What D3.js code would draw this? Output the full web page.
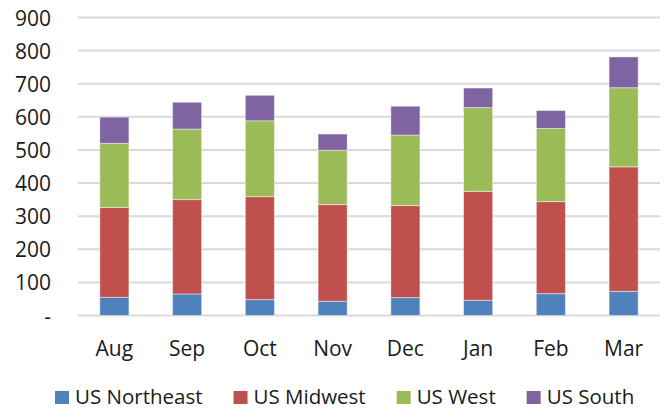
<!DOCTYPE html>
<html>
<head>
<meta charset="utf-8">
<script src="https://cdn.jsdelivr.net/npm/d3@7"></script>
<style>
  html, body { margin: 0; padding: 0; background: #fff; }
  svg { display: block; font-family: "Open Sans", sans-serif; }
</style>
</head>
<body>
<svg id="chart" width="668" height="410"></svg>
<script>
const months = ["Aug", "Sep", "Oct", "Nov", "Dec", "Jan", "Feb", "Mar"];
const seriesNames = ["US Northeast", "US Midwest", "US West", "US South"];
const northeast = [55, 65, 48, 43, 54, 46, 66, 73];
const midwest   = [271, 285, 311, 292, 278, 329, 278, 376];
const west      = [194, 213, 229, 164, 213, 253, 221, 239];
const south     = [79, 81, 77, 49, 87, 59, 54, 93];
const yTicks = [0, 100, 200, 300, 400, 500, 600, 700, 800, 900];
const colors = ["#4F81BD", "#C0504D", "#9BBB59", "#8064A2"];

const svg = d3.select("#chart");
const plotLeft = 78, plotRight = 660, plotTop = 17.5, plotBottom = 315.5;

const rows = months.map((m, i) => ({
  month: m,
  "US Northeast": northeast[i],
  "US Midwest": midwest[i],
  "US West": west[i],
  "US South": south[i]
}));
const stacked = d3.stack().keys(seriesNames)(rows);

const x = d3.scaleBand().domain(months).range([plotLeft, plotRight]).paddingInner(0.6).paddingOuter(0.3);
const y = d3.scaleLinear().domain([0, 900]).range([plotBottom, plotTop]);
const color = d3.scaleOrdinal().domain(seriesNames).range(colors);

// gridlines
svg.append("g")
  .selectAll("line")
  .data(yTicks)
  .join("line")
  .attr("x1", plotLeft).attr("x2", plotRight)
  .attr("y1", d => y(d)).attr("y2", d => y(d))
  .attr("stroke", "#D9D9D9")
  .attr("stroke-width", 2);

// y axis labels
const yAxis = d3.axisLeft(y).tickValues(yTicks).tickSize(0).tickPadding(0)
  .tickFormat(d => d === 0 ? "-" : d3.format("d")(d));
const yg = svg.append("g").attr("transform", `translate(51,0)`).call(yAxis);
yg.select(".domain").remove();
yg.selectAll("text")
  .attr("font-family", "'Open Sans', sans-serif")
  .attr("font-size", 21)
  .attr("fill", "#1a1a1a")
  .attr("dy", "0.36em");

// bars
svg.append("g")
  .selectAll("g")
  .data(stacked)
  .join("g")
  .attr("fill", d => color(d.key))
  .selectAll("rect")
  .data(d => d)
  .join("rect")
  .attr("x", d => x(d.data.month))
  .attr("width", x.bandwidth())
  .attr("y", d => y(d[1]))
  .attr("height", d => y(d[0]) - y(d[1]))
  .attr("stroke", "rgba(255,255,255,0.45)")
  .attr("stroke-width", 1);

// x axis labels
const xAxis = d3.axisBottom(x).tickSize(0).tickPadding(0);
const xg = svg.append("g").attr("transform", `translate(0,${plotBottom})`).call(xAxis);
xg.select(".domain").remove();
xg.selectAll("text")
  .attr("font-family", "'Open Sans', sans-serif")
  .attr("font-size", 21)
  .attr("fill", "#1a1a1a")
  .attr("dy", null)
  .attr("y", 40);

// legend
const legend = svg.append("g");
let lx = 55;
seriesNames.forEach((name, i) => {
  const g = legend.append("g");
  g.append("rect")
    .attr("x", lx).attr("y", 391)
    .attr("width", 14).attr("height", 13)
    .attr("fill", colors[i]);
  const t = g.append("text")
    .attr("x", lx + 20).attr("y", 404)
    .attr("font-size", 20.5)
    .attr("fill", "#1a1a1a")
    .text(name);
  lx = lx + 20 + t.node().getComputedTextLength() + 31;
});
</script>
</body>
</html>
